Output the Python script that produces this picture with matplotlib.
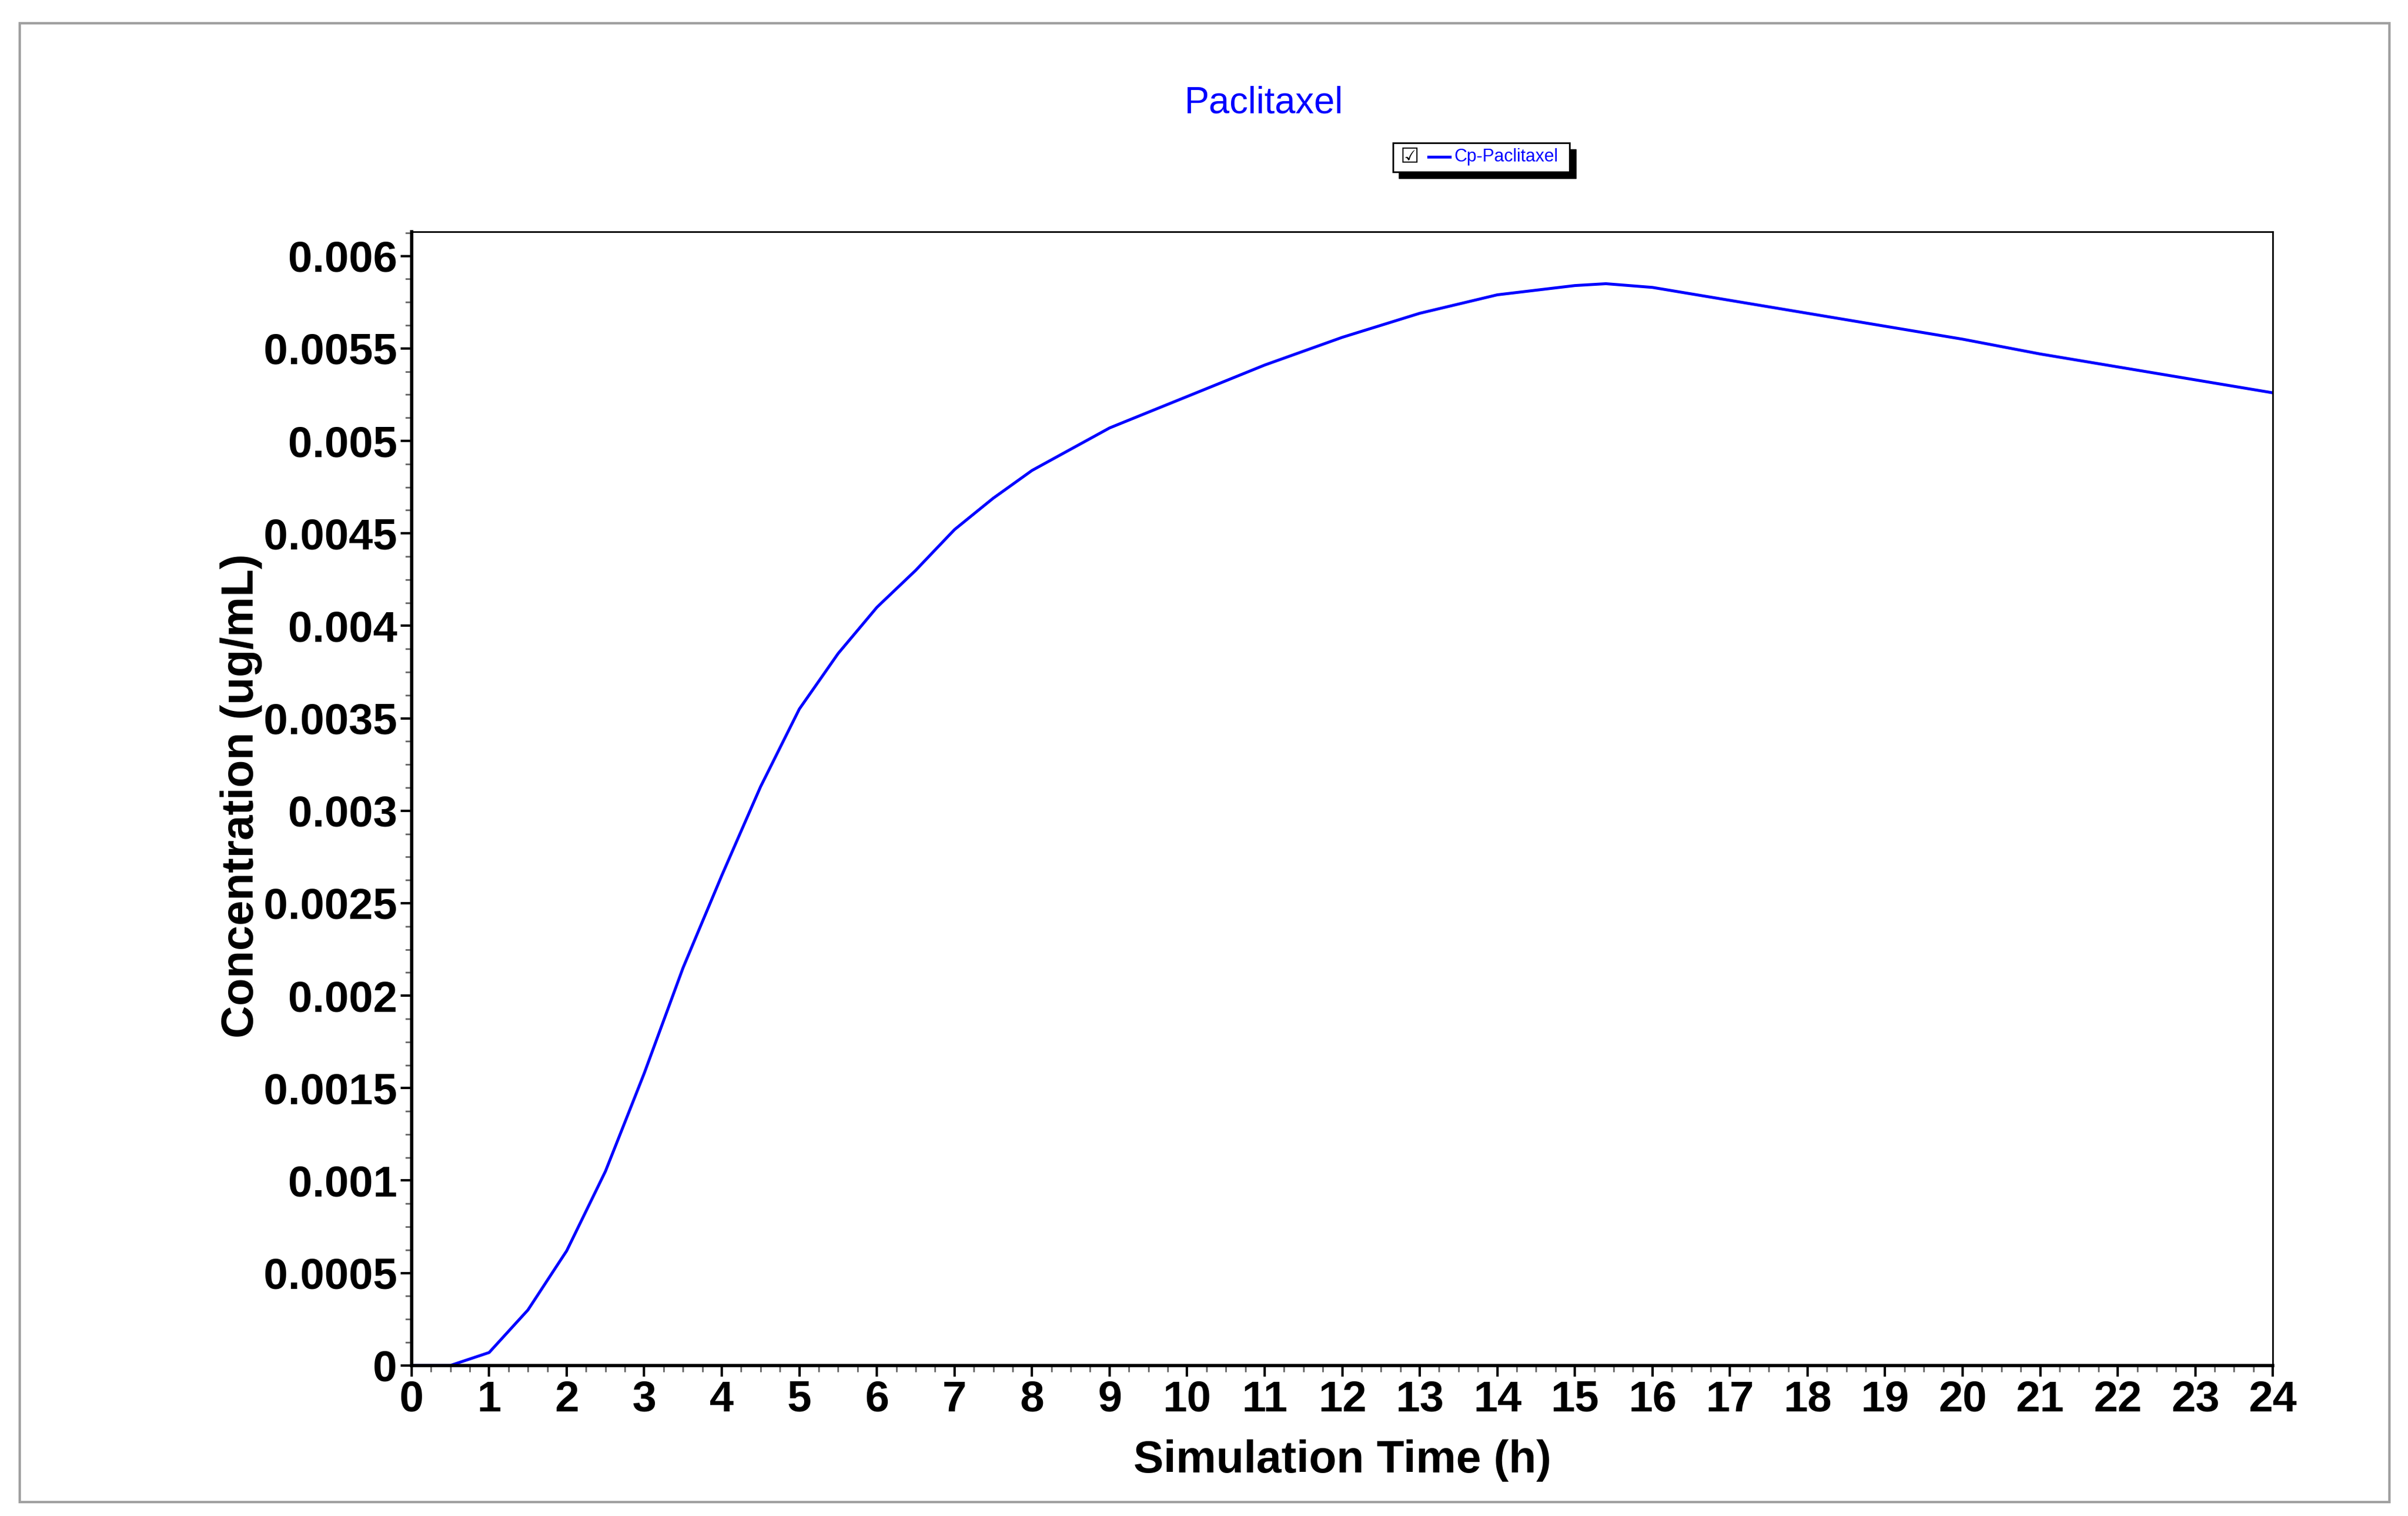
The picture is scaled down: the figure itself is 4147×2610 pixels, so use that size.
import matplotlib.pyplot as plt
from matplotlib.patches import Rectangle
from matplotlib.ticker import MultipleLocator
import numpy as np

time_h = [0, 0.5, 1, 1.5, 2, 2.5, 3, 3.5, 4, 4.5, 5, 5.5, 6, 6.5, 7, 7.5, 8, 9, 10,
          11, 12, 13, 14, 15, 15.4, 16, 17, 18, 19, 20, 21, 22, 23, 24]
conc = [0, 0, 0.00007, 0.0003, 0.00062, 0.00105, 0.00158, 0.00215, 0.00265, 0.00313,
        0.00355, 0.00385, 0.0041, 0.0043, 0.00452, 0.00469, 0.00484, 0.00507, 0.00524,
        0.00541, 0.00556, 0.00569, 0.00579, 0.00584, 0.00585, 0.00583, 0.00576, 0.00569,
        0.00562, 0.00555, 0.00547, 0.0054, 0.00533, 0.00526]
y_ticks = [0, 0.0005, 0.001, 0.0015, 0.002, 0.0025, 0.003, 0.0035, 0.004, 0.0045,
           0.005, 0.0055, 0.006]
y_labels = ["0", "0.0005", "0.001", "0.0015", "0.002", "0.0025", "0.003", "0.0035",
            "0.004", "0.0045", "0.005", "0.0055", "0.006"]

plt.rcParams["font.family"] = ["Liberation Sans", "DejaVu Sans"]

W, H = 4147, 2610
fig = plt.figure(figsize=(W / 100, H / 100), dpi=100)

# outer grey frame
fig.patches.append(Rectangle((13 / 1568, 1 - 978 / 987), (1556 - 13) / 1568, (978 - 15) / 987,
                             transform=fig.transFigure, fill=False, edgecolor="#a0a0a0", lw=3))

ax = fig.add_axes([268 / 1568, 1 - 889 / 987, (1480 - 268) / 1568, (889 - 151) / 987])
ax.plot(time_h, conc, color="blue", lw=3.6)
ax.set_xlim(0, 24)
ax.set_ylim(0, 0.00613)
ax.set_xticks(range(0, 25))
ax.xaxis.set_minor_locator(MultipleLocator(0.25))
ax.set_yticks(y_ticks)
ax.set_yticklabels(y_labels)
ax.yaxis.set_minor_locator(MultipleLocator(0.000125))
ax.tick_params(which="major", length=14, width=3, labelsize=54, pad=4)
ax.tick_params(which="minor", length=8, width=2, color="#666666")
for lab in ax.get_xticklabels() + ax.get_yticklabels():
    lab.set_fontweight("bold")
for sp in ax.spines.values():
    sp.set_linewidth(2)
ax.spines["left"].set_linewidth(4)
ax.spines["bottom"].set_linewidth(4)

fig.text(874 / 1568, 1 - 951 / 987, "Simulation Time (h)", ha="center", va="center",
         fontsize=56, fontweight="bold")
fig.text(157 / 1568, 1 - 518 / 987, "Concentration (ug/mL)", ha="center", va="center",
         rotation=90, fontsize=56, fontweight="bold")
fig.text(823 / 1568, 1 - 67 / 987, "Paclitaxel", ha="center", va="center",
         fontsize=46, color="blue")

# legend box with shadow
lx, ly, lw_, lh = 907 / 1568, 1 - 112 / 987, 115 / 1568, 19 / 987
fig.patches.append(Rectangle((lx + 4 / 1568, ly - 4 / 987), lw_, lh, transform=fig.transFigure,
                             facecolor="black", edgecolor="black"))
fig.patches.append(Rectangle((lx, ly), lw_, lh, transform=fig.transFigure,
                             facecolor="white", edgecolor="black", lw=2))
fig.text(918 / 1568, 1 - 102 / 987, "\u2611", ha="center", va="center", fontsize=26,
         family="DejaVu Sans")
fig.add_artist(plt.Line2D([930 / 1568, 944 / 1568], [1 - 102 / 987] * 2, color="blue", lw=3.5,
                          transform=fig.transFigure))
fig.text(947 / 1568, 1 - 102 / 987, "Cp-Paclitaxel", ha="left", va="center", fontsize=22,
         color="blue")

fig.savefig("out.png", dpi=100)
